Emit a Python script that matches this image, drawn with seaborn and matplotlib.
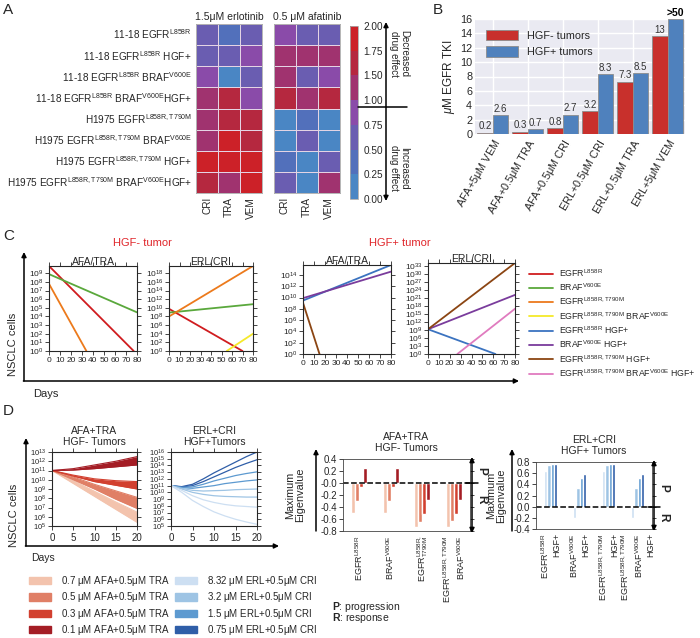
import numpy as np
import pandas as pd
import matplotlib
matplotlib.use('Agg')
import matplotlib.pyplot as plt
import seaborn as sns
from matplotlib.colors import ListedColormap
from matplotlib.lines import Line2D
from matplotlib.patches import Patch

sns.set_theme(style='ticks')
plt.rcParams['font.family'] = ['Liberation Sans', 'DejaVu Sans']
plt.rcParams['mathtext.fontset'] = 'custom'
plt.rcParams['mathtext.rm'] = 'Liberation Sans'
plt.rcParams['mathtext.it'] = 'Liberation Sans:italic'
plt.rcParams['mathtext.bf'] = 'Liberation Sans:bold'
plt.rcParams['mathtext.default'] = 'regular'

# ---------------- data ----------------
# A: combination effect relative to single drug (0..2)
a_rows = ['11-18 EGFR$^{L858R}$',
          '11-18 EGFR$^{L858R}$ HGF+',
          '11-18 EGFR$^{L858R}$ BRAF$^{V600E}$',
          '11-18 EGFR$^{L858R}$ BRAF$^{V600E}$HGF+',
          'H1975 EGFR$^{L858R,T790M}$',
          'H1975 EGFR$^{L858R,T790M}$ BRAF$^{V600E}$',
          'H1975 EGFR$^{L858R,T790M}$ HGF+',
          'H1975 EGFR$^{L858R,T790M}$ BRAF$^{V600E}$HGF+']
a_drugs = ['CRI', 'TRA', 'VEM']
a_erlotinib = [[0.7, 0.45, 0.7], [0.7, 0.75, 0.9], [1.0, 0.15, 0.65], [1.3, 1.55, 0.95],
               [1.3, 1.55, 1.6], [1.25, 1.9, 1.6], [1.85, 1.85, 1.9], [1.5, 1.4, 1.85]]
a_afatinib = [[1.0, 0.7, 0.65], [1.3, 1.3, 1.25], [1.3, 0.7, 0.95], [1.55, 1.3, 1.6],
              [0.15, 0.45, 0.15], [0.15, 0.7, 0.2], [0.45, 0.1, 0.7], [0.8, 0.1, 1.35]]
a_cbar_labels = ['0.00', '0.25', '0.50', '0.75', '1.00', '1.50', '1.75', '2.00']

# B: EGFR TKI dose needed
b_conditions = ['AFA+5$\\mu$M VEM', 'AFA+0.5$\\mu$M TRA', 'AFA+0.5$\\mu$M CRI',
                'ERL+0.5$\\mu$M CRI', 'ERL+0.5$\\mu$M TRA', 'ERL+5$\\mu$M VEM']
b_hgf_neg = [0.2, 0.3, 0.8, 3.2, 7.3, 13.6]
b_hgf_pos = [2.6, 0.7, 2.7, 8.3, 8.5, 16.0]
b_neg_text = ['0.2', '0.3', '0.8', '3.2', '7.3', '13']
b_pos_text = ['2.6', '0.7', '2.7', '8.3', '8.5', '>50']

# C: genotypes and simulated lines (genotype, [day start, day end], [cells start, cells end])
c_labels = ['EGFR$^{L858R}$', 'BRAF$^{V600E}$', 'EGFR$^{L858R,T790M}$',
            'EGFR$^{L858R,T790M}$ BRAF$^{V600E}$', 'EGFR$^{L858R}$ HGF+',
            'BRAF$^{V600E}$ HGF+', 'EGFR$^{L858R,T790M}$ HGF+',
            'EGFR$^{L858R,T790M}$ BRAF$^{V600E}$ HGF+']
c_neg_afa_tra = [(0, [0, 77], [7e9, 1]), (1, [0, 80], [8e8, 3e4]), (2, [0, 34], [6e7, 1])]
c_neg_erl_cri = [(0, [0, 70], [6e9, 1]), (1, [0, 80], [8e8, 7e10]),
                 (2, [0, 80], [1e8, 5e19]), (3, [55, 80], [1, 1e4])]
c_pos_afa_tra = [(4, [0, 80], [3e9, 6e15]), (5, [0, 80], [8e9, 4e14]), (6, [0, 15], [1.2e9, 1])]
c_pos_erl_cri = [(4, [0, 62], [1.8e9, 1]), (5, [0, 80], [1.8e9, 1.2e22]),
                 (6, [0, 80], [1.8e9, 1e34]), (7, [27, 80], [1, 8e16])]

# D: simulated tumour trajectories (log10 cells)
d_days_afa = [0, 5, 10, 15, 20]
d_afa_conc = ['0.7 $\\mu$M AFA+0.5$\\mu$M TRA', '0.5 $\\mu$M AFA+0.5$\\mu$M TRA',
              '0.3 $\\mu$M AFA+0.5$\\mu$M TRA', '0.1 $\\mu$M AFA+0.5$\\mu$M TRA']
d_afa_low = [[11, 9.6, 8.2, 6.8, 5.4], [11, 10.0, 9.0, 7.9, 6.9],
             [11, 10.4, 9.8, 9.4, 9.0], [11, 11.05, 11.2, 11.4, 11.6]]
d_afa_high = [[11, 9.9, 8.75, 7.6, 6.5], [11, 10.3, 9.5, 8.8, 8.1],
              [11, 10.5, 10.1, 9.9, 9.8], [11, 11.2, 11.6, 12.0, 12.5]]
d_days_erl = [0, 2.5, 5, 7.5, 10, 12.5, 15, 17.5, 20]
d_erl_conc = ['8.32 $\\mu$M ERL+0.5$\\mu$M CRI', '3.2 $\\mu$M ERL+0.5$\\mu$M CRI',
              '1.5 $\\mu$M ERL+0.5$\\mu$M CRI', '0.75 $\\mu$M ERL+0.5$\\mu$M CRI']
d_erl_lines = [(3, [11, 10.85, 11.2, 12.0, 12.9, 13.7, 14.5, 15.3, 16.0]),
               (3, [11, 10.8, 11.0, 11.6, 12.3, 13.0, 13.7, 14.3, 14.85]),
               (2, [11, 10.75, 10.8, 11.2, 11.7, 12.1, 12.5, 12.8, 13.05]),
               (2, [11, 10.7, 10.6, 10.8, 11.0, 11.3, 11.5, 11.7, 11.85]),
               (1, [11, 10.6, 10.3, 10.2, 10.25, 10.3, 10.4, 10.45, 10.5]),
               (1, [11, 10.5, 10.0, 9.7, 9.5, 9.4, 9.35, 9.3, 9.3]),
               (0, [11, 10.3, 9.5, 8.9, 8.5, 8.2, 8.0, 7.9, 7.8]),
               (0, [11, 10.0, 8.8, 7.9, 7.1, 6.5, 6.0, 5.6, 5.25])]

d_neg_groups = ['EGFR$^{L858R}$', 'BRAF$^{V600E}$', 'EGFR$^{L858R,}_{T790M}$',
                'EGFR$^{L858R,T790M}$\nBRAF$^{V600E}$']
d_neg_eig = [[-0.5, -0.5, -0.74, -0.73], [-0.3, -0.3, -0.65, -0.64],
             [-0.06, -0.06, -0.51, -0.51], [0.25, 0.25, -0.29, -0.29]]
d_pos_groups = ['EGFR$^{L858R}$\nHGF+', 'BRAF$^{V600E}$\nHGF+',
                'EGFR$^{L858R,T790M}$\nHGF+', 'EGFR$^{L858R,T790M}$\nBRAF$^{V600E}$\nHGF+']
d_pos_eig = [[0.64, -0.2, 0.64, -0.2], [0.74, 0.33, 0.74, 0.33],
             [0.76, 0.51, 0.76, 0.51], [0.77, 0.58, 0.77, 0.58]]

# ---------------- styles ----------------
heat_colors = ['#4a86c4', '#5270bb', '#6a5db1', '#8a4ba9', '#a0336f', '#b5283f', '#cc2128']
c_colors = ['#d01c1f', '#5aa83c', '#ec7a1c', '#f5e92a', '#3b73c0', '#7a3c9c', '#8b4513', '#e07bbf']
reds = ['#f3c3ad', '#e07f66', '#d2402f', '#a41d25']
blues = ['#cddff2', '#9ec4e4', '#5d9ad0', '#2f5ea8']

W, H = 700, 638
fig = plt.figure(figsize=(W / 100, H / 100), dpi=100)


def box(l, t, r, b):
    return fig.add_axes([l / W, 1 - b / H, (r - l) / W, (b - t) / H])


# ---------------- A ----------------
cmap = ListedColormap(heat_colors)
ax_e = box(196, 24, 262, 193)
ax_a = box(274, 24, 340, 193)
ax_cb = box(350, 26, 358, 199)
sns.heatmap(pd.DataFrame(a_erlotinib, index=a_rows, columns=a_drugs), ax=ax_e, cmap=cmap,
            vmin=0, vmax=2, cbar=False, linewidths=0.5, linecolor='#e4d4e4')
sns.heatmap(pd.DataFrame(a_afatinib, index=a_rows, columns=a_drugs), ax=ax_a, cmap=cmap,
            vmin=0, vmax=2, cbar_ax=ax_cb, linewidths=0.5, linecolor='#e4d4e4', yticklabels=False)
ax_e.set_title('1.5μM erlotinib', fontsize=7.5, pad=3)
ax_a.set_title('0.5 μM afatinib', fontsize=7.5, pad=3)
for ax in (ax_e, ax_a):
    ax.tick_params(length=0, labelsize=7.2, pad=3)
    ax.set_xticklabels(a_drugs, rotation=90)
    for s in ax.spines.values():
        s.set_visible(True)
        s.set_color('#aaaaaa')
        s.set_linewidth(0.6)
ax_e.set_yticklabels(a_rows, rotation=0)
cbar = ax_a.collections[0].colorbar
cbar.set_ticks(np.linspace(0, 2, 8), labels=a_cbar_labels)
cbar.ax.tick_params(labelsize=7.2, length=0, pad=4)
cbar.outline.set_edgecolor('#aaaaaa')
cbar.outline.set_linewidth(0.6)

# ---------------- B ----------------
ax_b = box(475, 19, 685, 134)
ax_b.set_facecolor('#eaeaf2')
for s in ax_b.spines.values():
    s.set_visible(False)
dfb = pd.DataFrame({'cond': b_conditions * 2,
                    'val': b_hgf_neg + b_hgf_pos,
                    'tumor': ['HGF- tumors'] * 6 + ['HGF+ tumors'] * 6})
sns.barplot(data=dfb, x='cond', y='val', hue='tumor', palette=['#c8302c', '#4f81bd'],
            width=0.86, saturation=1, edgecolor='#8c8c8c', linewidth=0.6, ax=ax_b)
ax_b.grid(True, color='white', linewidth=1)
ax_b.set_axisbelow(True)
ax_b.set_ylim(0, 16)
ax_b.set_yticks(range(0, 17, 2))
ax_b.set_xlabel('')
ax_b.set_ylabel('$\\mathit{\\mu}$M EGFR TKI', fontsize=8.5, labelpad=2)
ax_b.tick_params(labelsize=7.8, length=0, pad=2)
plt.setp(ax_b.get_xticklabels(), rotation=60, ha='right', rotation_mode='anchor')
ax_b.bar_label(ax_b.containers[0], labels=b_neg_text, padding=1, fontsize=7, color='#333333')
pos_txt = ax_b.bar_label(ax_b.containers[1], labels=b_pos_text, padding=1, fontsize=7, color='#333333')
pos_txt[-1].set_fontweight('bold')
pos_txt[-1].set_fontsize(7.5)
pos_txt[-1].set_color('black')
pos_txt[-1].set_annotation_clip(False)
h, l = ax_b.get_legend_handles_labels()
ax_b.legend(h, l, loc='upper left', frameon=False, fontsize=7.8, handlelength=3,
            handleheight=1.1, borderaxespad=0.6)

# ---------------- C ----------------
def c_panel(pos, lines, exps, ytop, title):
    ax = box(*pos)
    ax.set_yscale('log')
    for g, days, cells in lines:
        sns.lineplot(x=days, y=cells, color=c_colors[g], linewidth=1.3, ax=ax)
    ax.set_xlim(0, 80)
    ax.set_ylim(1, ytop)
    ax.set_xticks(range(0, 81, 10))
    ax.set_yticks([10.0 ** e for e in exps])
    ax.set_yticklabels(['$10^{%d}$' % e for e in exps])
    ax.minorticks_off()
    ax.tick_params(labelsize=6, length=3, width=0.6, top=True, right=True, direction='out', pad=1)
    ax.set_title(title, fontsize=7.5, pad=1)
    for s in ax.spines.values():
        s.set_linewidth(0.8)
    return ax


c_panel((49, 266, 137, 351), c_neg_afa_tra, range(0, 10), 7e9, 'AFA/TRA')
c_panel((169, 266, 253, 351), c_neg_erl_cri, range(0, 19, 2), 5e19, 'ERL/CRI')
c_panel((303, 265, 391, 354), c_pos_afa_tra, range(0, 15, 2), 6e15, 'AFA/TRA')
c_panel((428, 263, 515, 354), c_pos_erl_cri, range(0, 34, 3), 1e34, 'ERL/CRI')

c_handles = [Line2D([], [], color=c, lw=1.3) for c in c_colors]
fig.legend(c_handles, c_labels, loc='upper left', bbox_to_anchor=(521 / W, 1 - 259 / H),
           frameon=False, fontsize=6.3, handlelength=2.8, labelspacing=0.3, handletextpad=0.6)

# ---------------- D ----------------
def d_axis(ax, exps, top):
    ax.set_yscale('log')
    ax.set_xlim(0, 20)
    ax.set_ylim(1e5, top)
    ax.set_xticks(range(0, 21, 5))
    ax.set_yticks([10.0 ** e for e in exps])
    ax.set_yticklabels(['$10^{%d}$' % e for e in exps])
    ax.minorticks_off()
    ax.tick_params(axis='y', labelsize=5.5, pad=1)
    ax.tick_params(axis='x', labelsize=7, pad=2)
    ax.tick_params(length=3, width=0.6, top=True, right=True, direction='out')
    for s in ax.spines.values():
        s.set_linewidth(0.8)


ax_d1 = box(52, 452, 137, 526)
ax_d1.set_yscale('log')
for i in range(4):
    lo = 10.0 ** np.array(d_afa_low[i])
    hi = 10.0 ** np.array(d_afa_high[i])
    ax_d1.fill_between(d_days_afa, lo, hi, color=reds[i], lw=0)
    sns.lineplot(x=d_days_afa, y=lo, color=reds[i], lw=0.8, ax=ax_d1)
    sns.lineplot(x=d_days_afa, y=hi, color=reds[i], lw=0.8, ax=ax_d1)
d_axis(ax_d1, range(5, 14), 1e13)
ax_d1.set_title('AFA+TRA\nHGF- Tumors', fontsize=7.5, pad=5, linespacing=1.1)

ax_d2 = box(171, 452, 257, 526)
ax_d2.set_yscale('log')
for ci, vals in d_erl_lines:
    sns.lineplot(x=d_days_erl, y=10.0 ** np.array(vals), color=blues[ci], lw=0.9, ax=ax_d2)
d_axis(ax_d2, range(5, 17), 1e16)
ax_d2.set_title('ERL+CRI\nHGF+Tumors', fontsize=7.5, pad=5, linespacing=1.1)

fig.legend([Patch(color=c) for c in reds], d_afa_conc, loc='upper left',
           bbox_to_anchor=(20 / W, 1 - 565 / H), frameon=False, fontsize=7,
           handlelength=2.3, handleheight=0.8, labelspacing=0.25, handletextpad=1.0)
fig.legend([Patch(color=c) for c in blues], d_erl_conc, loc='upper left',
           bbox_to_anchor=(166 / W, 1 - 565 / H), frameon=False, fontsize=7,
           handlelength=2.3, handleheight=0.8, labelspacing=0.25, handletextpad=1.0)


def eig_panel(pos, groups, eig, colors, ylim, width, title):
    ax = box(*pos)
    df = pd.DataFrame({'group': groups * 4,
                       'eig': sum(eig, []),
                       'conc': [str(i) for i in range(4) for _ in groups]})
    sns.barplot(data=df, x='group', y='eig', hue='conc', palette=colors, width=width,
                saturation=1, legend=False, ax=ax)
    ax.axhline(0, color='black', ls='--', lw=1.1)
    ax.set_ylim(*ylim)
    ax.set_yticks(np.round(np.arange(ylim[0], ylim[1] + 0.01, 0.2), 1))
    ax.yaxis.set_major_formatter(matplotlib.ticker.FormatStrFormatter('%.1f'))
    ax.set_xlabel('')
    ax.set_ylabel('Maximum\nEigenvalue', fontsize=7.8, linespacing=1.0)
    ax.tick_params(axis='y', labelsize=7, length=3, width=0.6, right=True, pad=1)
    ax.tick_params(axis='x', length=0, labelsize=6.5, pad=3)
    plt.setp(ax.get_xticklabels(), rotation=90, va='top', ha='center', multialignment='right')
    for s in ax.spines.values():
        s.set_linewidth(0.6)
        s.set_color('#444444')
    ax.set_title(title, fontsize=7.5, pad=6, linespacing=1.1)
    return ax


ax_d3 = eig_panel((343, 459, 470, 531), d_neg_groups, d_neg_eig, reds, (-0.8, 0.4), 0.5,
                  'AFA+TRA\nHGF- Tumors')
ax_d3.yaxis.set_label_coords(-0.3, 0.5)
ax_d4 = eig_panel((536, 462, 652, 529), d_pos_groups, d_pos_eig, blues, (-0.4, 0.8), 0.45,
                  'ERL+CRI\nHGF+ Tumors')
ax_d4.yaxis.set_label_coords(-0.26, 0.5)

# ---------------- overlay: letters, arrows, notes ----------------
ov = fig.add_axes([0, 0, 1, 1])
ov.set_xlim(0, W)
ov.set_ylim(H, 0)
ov.axis('off')
ov.patch.set_alpha(0)
arrow = dict(arrowstyle='-|>', color='black', lw=1.1, mutation_scale=7, shrinkA=0, shrinkB=0)
both = dict(arrowstyle='<|-|>', color='black', lw=1.1, mutation_scale=7, shrinkA=0, shrinkB=0)

for letter, x, y in [('A', 3, 3), ('B', 433, 3), ('C', 3, 229), ('D', 3, 404)]:
    ov.text(x, y, letter, fontsize=11, va='top', ha='left')

# A colorbar annotation
ov.annotate('', xy=(386, 22), xytext=(386, 201), arrowprops=both)
ov.plot([358, 407], [107, 107], color='black', lw=1.1)
ov.text(399, 54, 'Decreased\ndrug effect', rotation=270, fontsize=7, ha='center', va='center',
        linespacing=1.0)
ov.text(399, 168, 'Increased\ndrug effect', rotation=270, fontsize=7, ha='center', va='center',
        linespacing=1.0)

# C frame
ov.annotate('', xy=(24, 252), xytext=(24, 381), arrowprops=arrow)
ov.annotate('', xy=(519, 381), xytext=(23.4, 381), arrowprops=arrow)
ov.text(13, 344, 'NSCLC cells', rotation=90, fontsize=8, ha='center', va='center')
ov.text(33, 394, 'Days', fontsize=8, ha='left', va='center')
ov.text(142, 243, 'HGF- tumor', fontsize=8, color='#e0262b', ha='center', va='center')
ov.text(400, 243, 'HGF+ tumor', fontsize=8, color='#e0262b', ha='center', va='center')

# D frame
ov.annotate('', xy=(26, 438), xytext=(26, 546), arrowprops=arrow)
ov.annotate('', xy=(279, 546), xytext=(25.4, 546), arrowprops=arrow)
ov.text(14, 515, 'NSCLC cells', rotation=90, fontsize=8, ha='center', va='center')
ov.text(31, 558, 'Days', fontsize=7.5, ha='left', va='center')

# eigenvalue arrows
ov.annotate('', xy=(316, 449), xytext=(316, 531), arrowprops=arrow)
ov.annotate('', xy=(512, 449), xytext=(512, 531), arrowprops=arrow)
ov.annotate('', xy=(472, 457), xytext=(472, 533), arrowprops=both)
ov.plot([466, 478], [483, 483], color='black', lw=1.1)
ov.text(481, 471, 'P', rotation=270, fontsize=8.5, fontweight='bold', ha='center', va='center')
ov.text(481, 499, 'R', rotation=270, fontsize=8.5, fontweight='bold', ha='center', va='center')
ov.annotate('', xy=(654, 460), xytext=(654, 531), arrowprops=both)
ov.plot([648, 660], [507, 507], color='black', lw=1.1)
ov.text(663, 488, 'P', rotation=270, fontsize=8.5, fontweight='bold', ha='center', va='center')
ov.text(663, 517, 'R', rotation=270, fontsize=8.5, fontweight='bold', ha='center', va='center')
ov.text(332, 607, '$\\mathbf{P}$: progression', fontsize=7.5, ha='left', va='center')
ov.text(332, 618, '$\\mathbf{R}$: response', fontsize=7.5, ha='left', va='center')

fig.savefig('out.png', dpi=100)
